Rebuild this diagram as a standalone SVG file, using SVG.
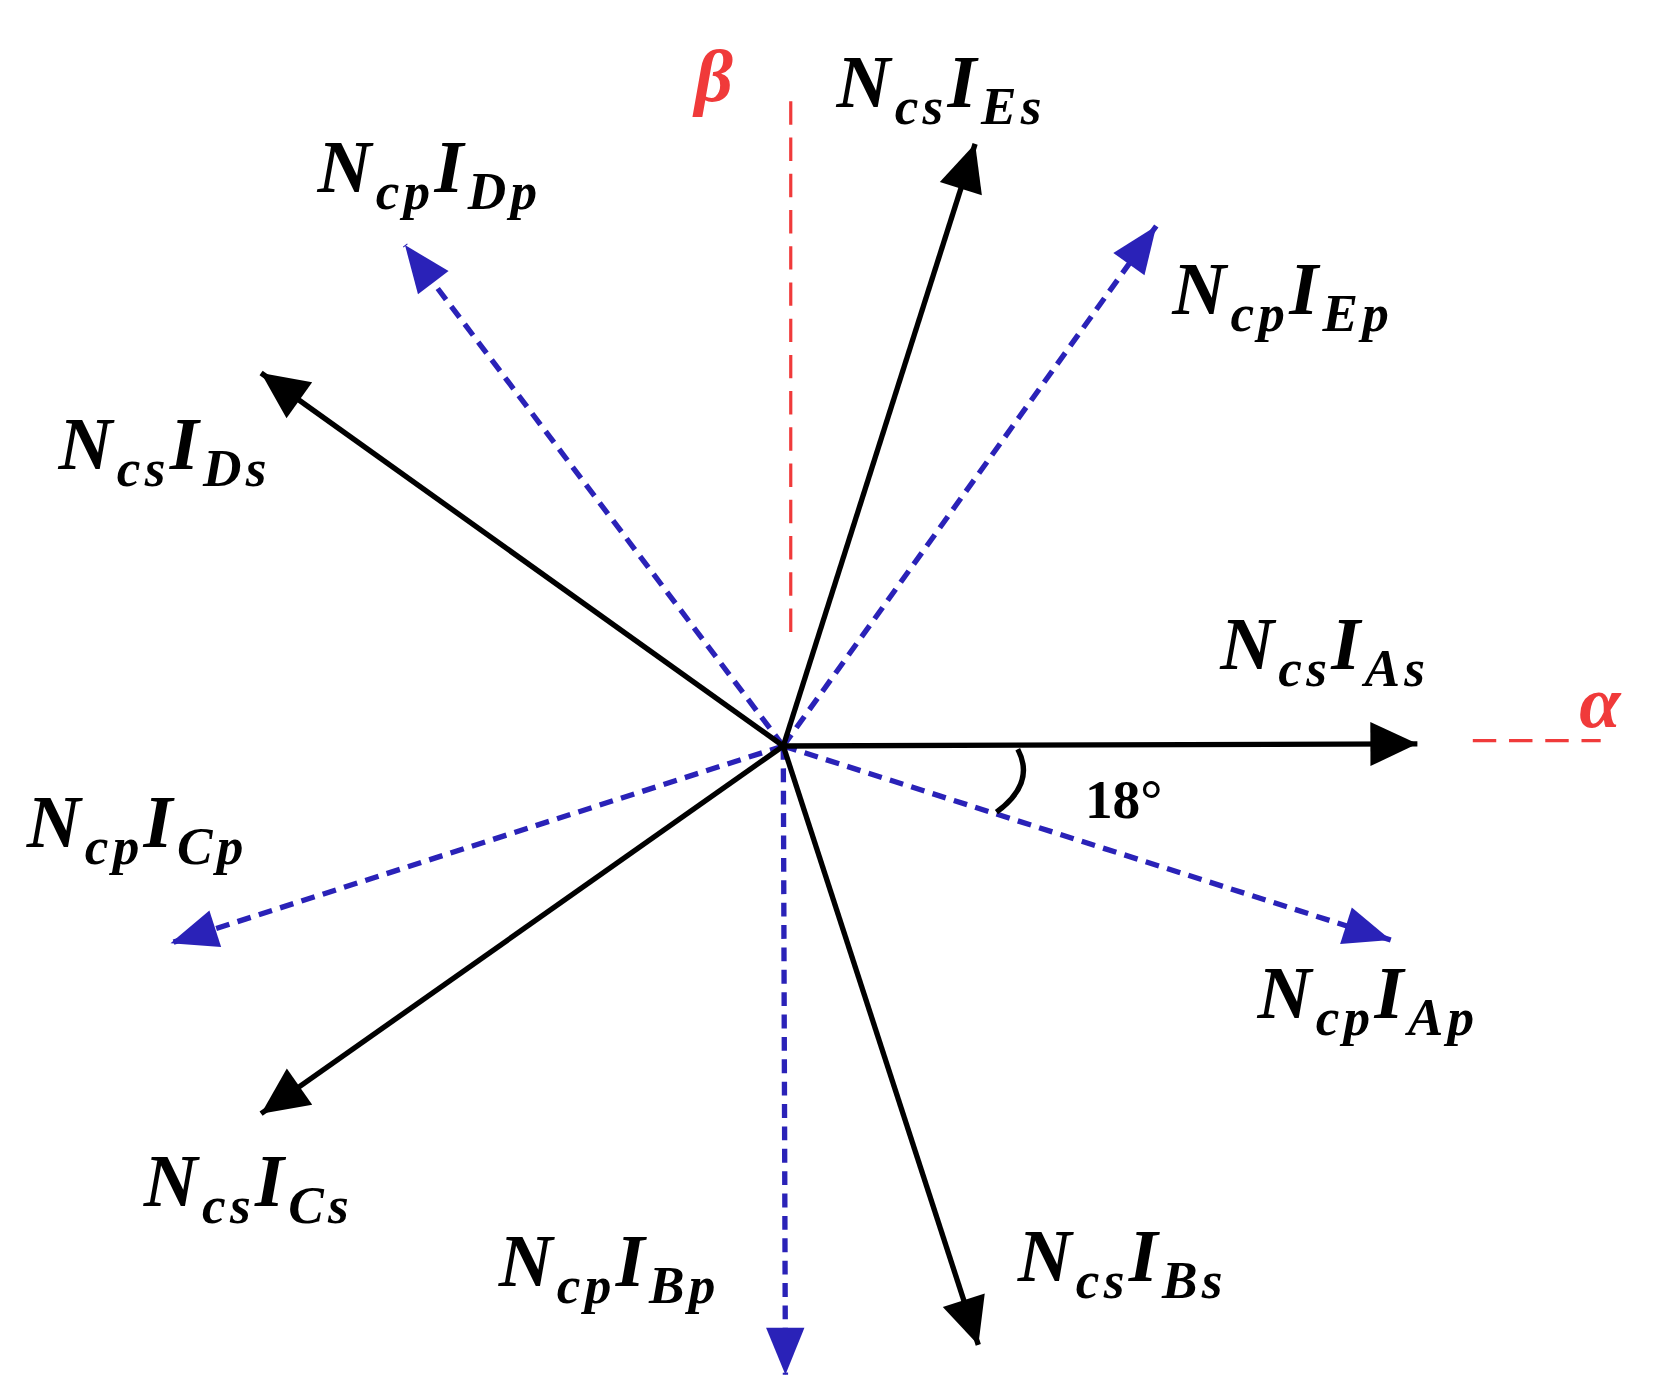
<svg xmlns="http://www.w3.org/2000/svg" width="1654" height="1400" viewBox="0 0 1654 1400">
<style>
.k{stroke:#000;stroke-width:5;fill:none}
.b{stroke:#2a22b8;stroke-width:5;stroke-dasharray:13 8;fill:none}
.r{stroke:#f03a3a;stroke-width:3;stroke-dasharray:22 12;fill:none}
.t{font-family:"Liberation Serif",serif;font-weight:bold;font-style:italic;font-size:70px;letter-spacing:4px;fill:#000}
.s{font-size:50px}
</style>
<defs>
<marker id="ak" viewBox="0 0 10 10" refX="9" refY="5" markerWidth="9" markerHeight="9" markerUnits="userSpaceOnUse" orient="auto" overflow="visible"><path d="M-40,-18 L9,5 L-40,28 Z" fill="#000"/></marker>
<marker id="ab" viewBox="0 0 10 10" refX="9" refY="5" markerWidth="9" markerHeight="9" markerUnits="userSpaceOnUse" orient="auto" overflow="visible"><path d="M-40,-15 L9,5 L-40,25 Z" fill="#2a22b8"/></marker>
</defs>
<rect width="1654" height="1400" fill="#fff"/>
<g transform="scale(1.0657)">
<g id="axes">
<line class="r" x1="742" y1="95" x2="742" y2="600"/>
<line class="r" x1="1382" y1="695" x2="1502" y2="695"/>
<text x="652" y="95" style="font-family:'Liberation Serif',serif;font-style:italic;font-weight:bold;font-size:70px;fill:#f03a3a">β</text>
<text x="1482" y="682" style="font-family:'Liberation Serif',serif;font-style:italic;font-weight:bold;font-size:70px;fill:#f03a3a">α</text>
</g>
<g id="connectors">
<line class="b" x1="735" y1="700" x2="1085" y2="212" marker-end="url(#ab)"/>
<line class="b" x1="735" y1="700" x2="380" y2="230" marker-end="url(#ab)"/>
<line class="b" x1="735" y1="700" x2="160" y2="885" marker-end="url(#ab)"/>
<line class="b" x1="735" y1="700" x2="737" y2="1290" marker-end="url(#ab)"/>
<line class="b" x1="735" y1="700" x2="1305" y2="882" marker-end="url(#ab)"/>
<line class="k" x1="735" y1="700" x2="1330" y2="698" marker-end="url(#ak)"/>
<line class="k" x1="735" y1="700" x2="915" y2="135" marker-end="url(#ak)"/>
<line class="k" x1="735" y1="700" x2="245" y2="350" marker-end="url(#ak)"/>
<line class="k" x1="735" y1="700" x2="245" y2="1045" marker-end="url(#ak)"/>
<line class="k" x1="735" y1="700" x2="918" y2="1262" marker-end="url(#ak)"/>
<path class="k" d="M955,703 Q972,735 935,762" stroke-width="4"/>
</g>
<g id="labels">
<text class="t" x="785" y="100">N<tspan class="s" dy="16">cs</tspan><tspan dy="-16">I</tspan><tspan class="s" dy="16">Es</tspan></text>
<text class="t" x="298" y="180">N<tspan class="s" dy="16">cp</tspan><tspan dy="-16">I</tspan><tspan class="s" dy="16">Dp</tspan></text>
<text class="t" x="1100" y="295">N<tspan class="s" dy="16">cp</tspan><tspan dy="-16">I</tspan><tspan class="s" dy="16">Ep</tspan></text>
<text class="t" x="55" y="440">N<tspan class="s" dy="16">cs</tspan><tspan dy="-16">I</tspan><tspan class="s" dy="16">Ds</tspan></text>
<text class="t" x="1145" y="628">N<tspan class="s" dy="16">cs</tspan><tspan dy="-16">I</tspan><tspan class="s" dy="16">As</tspan></text>
<text class="t" x="25" y="795">N<tspan class="s" dy="16">cp</tspan><tspan dy="-16">I</tspan><tspan class="s" dy="16">Cp</tspan></text>
<text class="t" x="1180" y="955">N<tspan class="s" dy="16">cp</tspan><tspan dy="-16">I</tspan><tspan class="s" dy="16">Ap</tspan></text>
<text class="t" x="135" y="1132">N<tspan class="s" dy="16">cs</tspan><tspan dy="-16">I</tspan><tspan class="s" dy="16">Cs</tspan></text>
<text class="t" x="468" y="1207">N<tspan class="s" dy="16">cp</tspan><tspan dy="-16">I</tspan><tspan class="s" dy="16">Bp</tspan></text>
<text class="t" x="955" y="1202">N<tspan class="s" dy="16">cs</tspan><tspan dy="-16">I</tspan><tspan class="s" dy="16">Bs</tspan></text>
<text x="1018" y="768" style="font-family:'Liberation Serif',serif;font-weight:bold;font-size:52px">18°</text>
</g>
</g>
</svg>
